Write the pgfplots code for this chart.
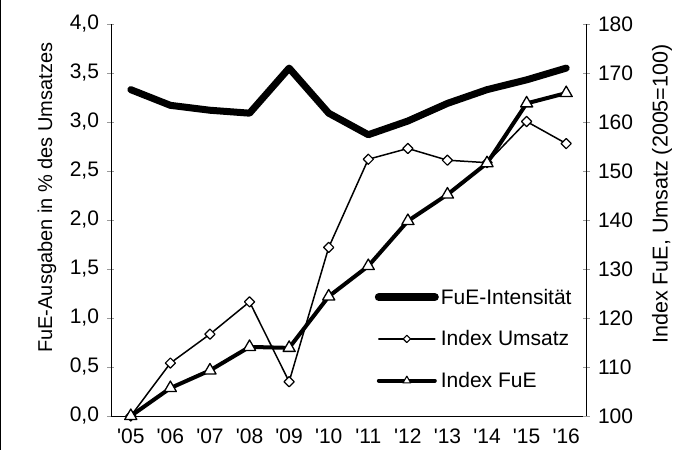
\documentclass[border=0pt]{standalone}
\usepackage{fontspec}
\setmainfont{Liberation Sans}
\usepackage{pgfplots}
\usepackage{pgfplotstable}
\pgfplotsset{compat=1.18}

% x = year index ('05 = 0), int = FuE-Intensitaet (%), umsatz/fue = Index (2005=100)
\pgfplotstableread{
x int umsatz fue
0 3.33 100.0 100.0
1 3.17 110.8 105.7
2 3.12 116.7 109.3
3 3.09 123.3 114.1
4 3.55 107.0 113.9
5 3.09 134.4 124.4
6 2.87 152.4 130.6
7 3.01 154.6 139.8
8 3.19 152.2 145.2
9 3.33 151.7 151.6
10 3.43 160.1 163.8
11 3.55 155.6 165.9
}\data

\pgfplotsset{
  base/.style={
    scale only axis, width=475pt, height=392pt,
    at={(0pt,0pt)}, anchor=south west,
    xmin=-0.5, xmax=11.5,
    font=\fontsize{20}{24}\selectfont,
    tick label style={font=\fontsize{21}{25}\selectfont},
    tick align=outside,
    major tick length=7pt,
    every tick/.style={gray!80, line width=0.8pt},
    /pgf/number format/assume math mode=true,
    clip=false,
  },
  lineplot/.style={black, line join=round, line cap=round},
}

\begin{document}
\begin{tikzpicture}
\path[use as bounding box] (-111pt,-34pt) rectangle (575pt,416pt);
\draw[black, line width=1.5pt] (-110.25pt,-34pt) -- (-110.25pt,416pt);

\begin{axis}[base,
  axis y line=left, axis x line=bottom,
  axis line style={-, black, line width=0.9pt},
  ymin=0, ymax=4,
  ytick={0,0.5,1,1.5,2,2.5,3,3.5,4},
  yticklabel style={xshift=-5pt, /pgf/number format/.cd, fixed, fixed zerofill, precision=1, use comma},
  xtick={0,...,11},
  xticklabels={\textquotesingle05,\textquotesingle06,\textquotesingle07,\textquotesingle08,\textquotesingle09,\textquotesingle10,\textquotesingle11,\textquotesingle12,\textquotesingle13,\textquotesingle14,\textquotesingle15,\textquotesingle16},
  xticklabel style={yshift=-6pt},
  x tick style={draw=none},
  ylabel={FuE-Ausgaben in \% des Umsatzes},
  every axis y label/.style={at={(axis description cs:-0.135,0.557)}, anchor=center, rotate=90,
    font=\fontsize{20}{24}\selectfont},
]
\addplot[lineplot, line width=7pt] table[x=x, y=int] {\data};
\end{axis}

\begin{axis}[base,
  axis y line=right, axis x line=none,
  axis line style={-, black, line width=0.9pt},
  ymin=100, ymax=180,
  ytick={100,110,...,180},
  yticklabel style={xshift=5pt},
  xtick=\empty,
  ylabel={Index FuE, Umsatz (2005=100)},
  every axis y label/.style={at={(axis description cs:1.16,0.566)}, anchor=center, rotate=90,
    font=\fontsize{21.5}{25}\selectfont},
  legend image code/.code={\draw[mark repeat=2,mark phase=2,#1] plot coordinates {(0pt,0pt) (28pt,0pt) (56pt,0pt)};},
  legend style={draw=none, fill=none, inner sep=0pt, row sep=21pt,
    at={(axis description cs:0.555,0.33)}, anchor=north west,
    font=\fontsize{21}{25}\selectfont},
  legend cell align=left,
]
\addplot[lineplot, line width=1.5pt, forget plot,
  mark=square*, mark size=3.6pt,
  mark options={rotate=45, fill=white, line width=1.2pt, solid}]
  table[x=x, y=umsatz] {\data};
\addplot[lineplot, line width=4pt, forget plot,
  mark=triangle*, mark size=7pt,
  mark options={fill=white, line width=1.3pt, solid}]
  table[x=x, y=fue] {\data};

\addlegendimage{lineplot, line width=8pt}
\addlegendentry{FuE-Intensität}
\addlegendimage{lineplot, line width=1.5pt, mark=square*, mark size=2.6pt,
  mark options={rotate=45, fill=white, line width=1.1pt}}
\addlegendentry{Index Umsatz}
\addlegendimage{lineplot, line width=4pt, mark=triangle*, mark size=4.5pt,
  mark options={fill=white, line width=1.1pt}}
\addlegendentry{Index FuE}
\end{axis}
\end{tikzpicture}
\end{document}
